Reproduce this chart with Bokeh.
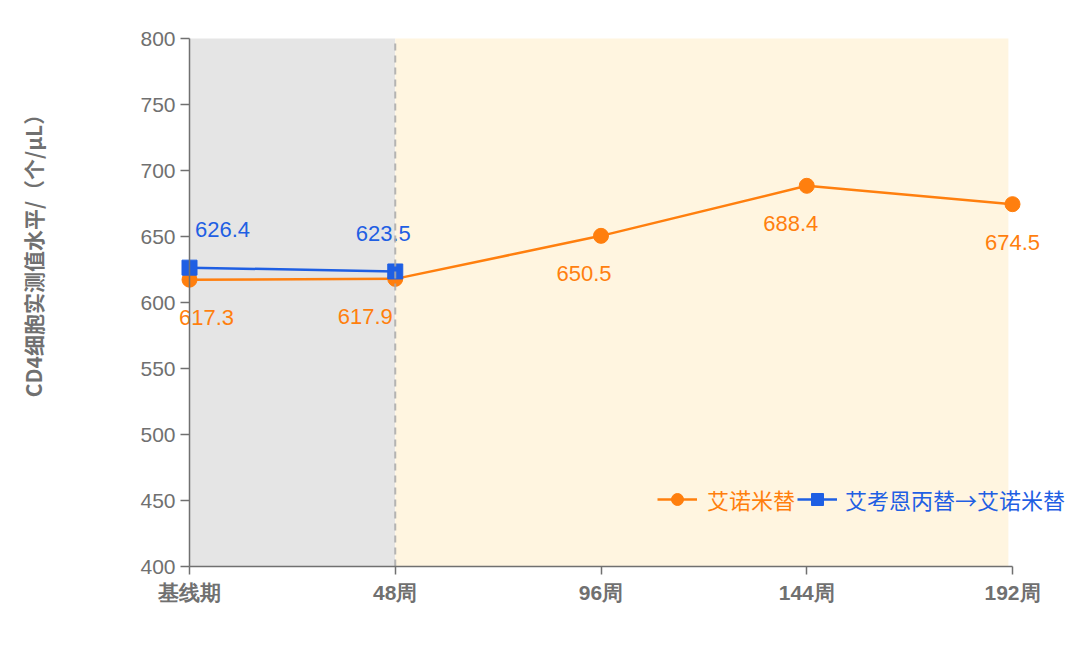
import math
from bokeh.plotting import figure
from bokeh.models import (Range1d, FixedTicker, BoxAnnotation, Legend, LegendItem,
                          ColumnDataSource, Label)
from bokeh.core.properties import value
from bokeh.embed import file_html
from bokeh.resources import INLINE

# data
categories = ["基线期", "48周", "96周", "144周", "192周"]
enuo_values = [617.3, 617.9, 650.5, 688.4, 674.5]          # 艾诺米替
switch_values = [626.4, 623.5]                              # 艾考恩丙替→艾诺米替
y_ticks = [400, 450, 500, 550, 600, 650, 700, 750, 800]

ORANGE = "#ff7f0e"
BLUE = "#1f5fe3"
AXIS_GRAY = "#707070"
CJK = "Noto Sans CJK SC"
LATIN = "Liberation Sans"

W, H = 1080, 648
# plotting area in canvas pixels: axes are drawn inside a full-canvas frame so
# markers and labels near the edges are not clipped
AX_LEFT, AX_RIGHT, AX_TOP, AX_BOTTOM = 189, 1012, 38, 566
Y_MIN, Y_MAX = 400, 800
X_MIN, X_MAX = 0, len(categories) - 1

px_x = (AX_RIGHT - AX_LEFT) / (X_MAX - X_MIN)
px_y = (AX_BOTTOM - AX_TOP) / (Y_MAX - Y_MIN)
x_range = Range1d(X_MIN - AX_LEFT / px_x, X_MAX + (W - AX_RIGHT) / px_x)
y_range = Range1d(Y_MIN - (H - AX_BOTTOM) / px_y, Y_MAX + AX_TOP / px_y)

x_pos = list(range(len(categories)))

p = figure(width=W, height=H, output_backend="svg", toolbar_location=None,
           x_range=x_range, y_range=y_range,
           min_border_left=0, min_border_right=0, min_border_top=0, min_border_bottom=0)
p.outline_line_color = None
p.xgrid.grid_line_color = None
p.ygrid.grid_line_color = None
p.background_fill_color = "white"
p.border_fill_color = "white"

# shaded phases
p.add_layout(BoxAnnotation(left=0, right=1, bottom=Y_MIN, top=Y_MAX, fill_color="#e5e5e5",
                           fill_alpha=1, line_color=None, level="underlay"))
p.add_layout(BoxAnnotation(left=1, right=3.98, bottom=Y_MIN, top=Y_MAX, fill_color="#fff5e0",
                           fill_alpha=1, line_color=None, level="underlay"))

# axes pinned to the data origin
p.xaxis.fixed_location = Y_MIN
p.yaxis.fixed_location = X_MIN
p.xaxis.bounds = (X_MIN, X_MAX)
p.yaxis.bounds = (Y_MIN, Y_MAX)
p.xaxis.ticker = FixedTicker(ticks=x_pos)
p.xaxis.major_label_overrides = {i: c for i, c in enumerate(categories)}
p.yaxis.ticker = FixedTicker(ticks=y_ticks)
for ax in (p.xaxis, p.yaxis):
    ax.axis_line_color = AXIS_GRAY
    ax.axis_line_width = 1.5
    ax.major_tick_line_color = AXIS_GRAY
    ax.major_tick_line_width = 1.5
    ax.minor_tick_line_color = None
    ax.major_label_text_color = AXIS_GRAY
    ax.major_label_text_font = LATIN
    ax.major_label_text_font_size = "21px"
p.xaxis.major_tick_out = 8
p.xaxis.major_tick_in = 0
p.yaxis.major_tick_out = 9
p.yaxis.major_tick_in = 0
p.xaxis.major_label_text_font_style = "bold"
p.xaxis.major_label_standoff = 6
p.yaxis.major_label_standoff = 5

# vertical axis title
p.add_layout(Label(x=X_MIN - (AX_LEFT - 32) / px_x, y=Y_MAX - (250 - AX_TOP) / px_y,
                   text="CD4细胞实测值水平/（个/μL）", angle=math.pi / 2,
                   text_font=CJK, text_font_size="21px", text_font_style="bold",
                   text_color=AXIS_GRAY, text_align="center", text_baseline="middle"))

# series
src_o = ColumnDataSource(dict(x=x_pos, y=enuo_values, lbl=[f"{v:.1f}" for v in enuo_values]))
src_b = ColumnDataSource(dict(x=x_pos[:len(switch_values)], y=switch_values,
                              lbl=[f"{v:.1f}" for v in switch_values]))

lo = p.line("x", "y", source=src_o, line_color=ORANGE, line_width=2.5)
so = p.scatter("x", "y", source=src_o, marker="circle", size=15, fill_color=ORANGE, line_color=ORANGE)
lb = p.line("x", "y", source=src_b, line_color=BLUE, line_width=2.5)
sb = p.scatter("x", "y", source=src_b, marker="square", size=15, fill_color=BLUE, line_color=BLUE)

# value labels (horizontal nudges keep neighbouring labels apart)
src_o.data["dx"] = [17, -30, -17, -16, 0]
src_b.data["dx"] = [33, -12]
p.text("x", "y", text="lbl", source=src_o, text_color=ORANGE, text_font=value(LATIN),
       text_font_size="22px", text_align="center", text_baseline="middle",
       x_offset="dx", y_offset=38)
p.text("x", "y", text="lbl", source=src_b, text_color=BLUE, text_font=value(LATIN),
       text_font_size="22px", text_align="center", text_baseline="middle",
       x_offset="dx", y_offset=-38)

# phase divider at week 48, over the markers
p.segment(x0=[1], y0=[Y_MIN], x1=[1], y1=[Y_MAX], line_color="#a8a8a8", line_width=2,
          line_dash="7 5", line_alpha=0.85)

# legends, one per series so each label takes its series colour
common = dict(orientation="horizontal", background_fill_alpha=0, border_line_color=None,
              label_text_font=CJK, label_text_font_size="22px", glyph_width=40,
              glyph_height=30, padding=0, margin=0, spacing=0)
leg_o = Legend(items=[LegendItem(label="艾诺米替", renderers=[lo, so])],
               location=(657, 133), label_text_color=ORANGE, label_standoff=10, **common)
leg_b = Legend(items=[LegendItem(label="艾考恩丙替→艾诺米替", renderers=[lb, sb])],
               location=(797, 133), label_text_color=BLUE, label_standoff=8, **common)
p.add_layout(leg_o)
p.add_layout(leg_b)

open("out.html", "w").write(file_html(p, INLINE))
